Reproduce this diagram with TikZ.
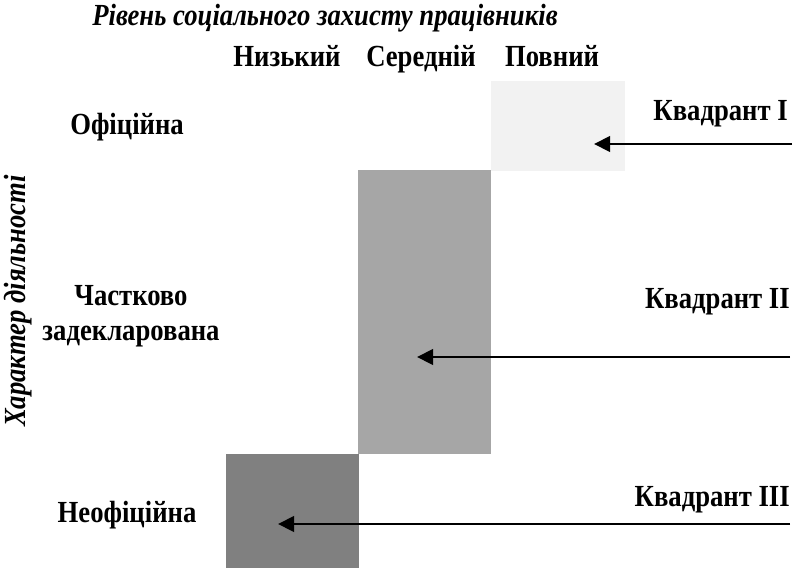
\documentclass[tikz,border=0pt]{standalone}
\usepackage{fontspec}
\setmainfont{Liberation Serif}
\usetikzlibrary{arrows.meta}

\begin{document}
\begin{tikzpicture}[x=0.75pt,y=0.75pt,yscale=-1,
  lbl/.style={font=\fontsize{23}{26}\selectfont\bfseries, xscale=.87, inner sep=0pt},
  ttl/.style={font=\fontsize{23}{26}\selectfont\bfseries\itshape, xscale=.87, inner sep=0pt},
  quad/.style={draw=none, inner sep=0pt, anchor=north west},
  arr/.style={line width=2.2pt, -{Triangle[length=12pt,width=11.5pt]}}]
%set diagram to the 796 x 568 frame
\useasboundingbox (0,0) rectangle (796,568);

%Shape: Rectangles of the quadrants
\node [quad, fill={rgb,255:red,242;green,242;blue,242}, minimum width=134*0.75pt, minimum height=90*0.75pt] (qI) at (491,81) {};
\node [quad, fill={rgb,255:red,166;green,166;blue,166}, minimum width=133*0.75pt, minimum height=284*0.75pt] (qII) at (358,170) {};
\node [quad, fill={rgb,255:red,128;green,128;blue,128}, minimum width=133*0.75pt, minimum height=114*0.75pt] (qIII) at (226,454) {};

% Text Node
\node [ttl] (title) at (325,18) {Рівень соціального захисту працівників};
% Text Node
\node [font=\fontsize{23}{26}\selectfont\bfseries\itshape, inner sep=0pt, rotate=90] (axis) at (18,301) {\scalebox{.87}[1]{Характер діяльності}};
% Text Node
\node [lbl, anchor=base] (low) at (287,66) {Низький};
% Text Node
\node [lbl, anchor=base] (mid) at (421,66) {Середній};
% Text Node
\node [lbl, anchor=base] (full) at (552,66) {Повний};
% Text Node
\node [lbl] (offic) at (127,127) {Офіційна};
% Text Node
\node [lbl, align=center] (part) at (131,316) {Частково\\задекларована};
% Text Node
\node [lbl] (unoffic) at (127,515) {Неофіційна};
% Text Node
\node [lbl, anchor=base east] (labI) at (788,120) {Квадрант I};
% Text Node
\node [lbl, anchor=base east] (labII) at (790,308) {Квадрант II};
% Text Node
\node [lbl, anchor=base east] (labIII) at (790,506) {Квадрант III};

%Straight Lines: arrows
\coordinate (sI) at (792,144);
\coordinate (eI) at (594,144);
\coordinate (sII) at (790,357);
\coordinate (eII) at (417,357);
\coordinate (sIII) at (790,524);
\coordinate (eIII) at (278,524);
\draw [arr] (sI) -- (eI);
\draw [arr] (sII) -- (eII);
\draw [arr] (sIII) -- (eIII);
\end{tikzpicture}
\end{document}
